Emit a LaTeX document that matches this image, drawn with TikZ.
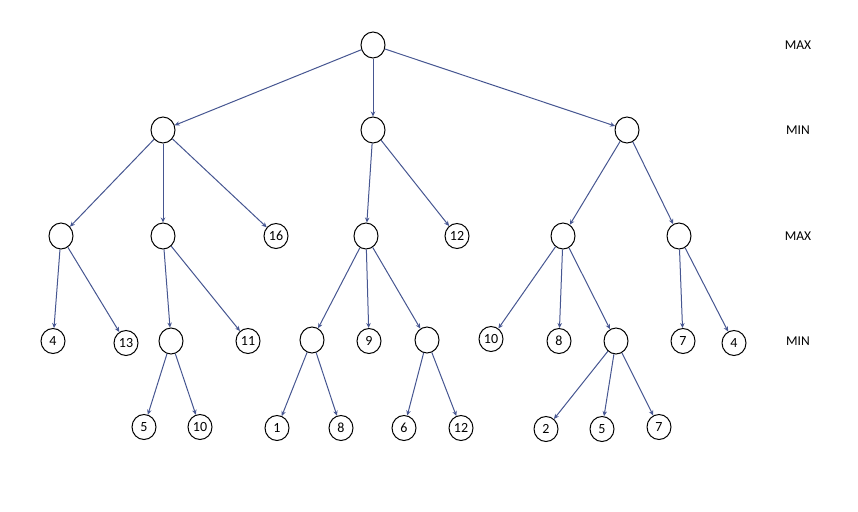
\documentclass[tikz,border=0pt]{standalone}
\usepackage{fontspec}
\setmainfont{Carlito}
\usetikzlibrary{shapes.geometric,arrows.meta}
\definecolor{edgecol}{RGB}{70,86,145}
\begin{document}
\begin{tikzpicture}[x=1pt,y=-1pt,
  nd/.style={ellipse,draw=black,line width=1pt,minimum width=24pt,minimum height=26pt,inner sep=0pt,font=\fontsize{14pt}{16pt}\selectfont},
  lf/.style={nd,minimum width=24pt,minimum height=25pt},
  edge/.style={draw=edgecol,line width=1pt,-{Stealth[length=5pt,width=4.5pt]}},
  lvl/.style={font=\fontsize{13.5pt}{16pt}\selectfont}]
\useasboundingbox (0,0) rectangle (858,511);
% root
\node[nd] (R) at (373,45) {};
% MIN level
\node[nd] (A) at (163,130) {};
\node[nd] (B) at (373,130) {};
\node[nd] (C) at (627,130) {};
% MAX level
\node[nd] (A1) at (61,236) {};
\node[nd] (A2) at (163,236) {};
\node[lf] (A3) at (276,236) {16};
\node[nd] (B1) at (366,236) {};
\node[lf] (B2) at (457,236) {12};
\node[nd] (C1) at (563,236) {};
\node[nd] (C2) at (679,236) {};
% MIN level 2
\node[lf] (A1a) at (53,341) {4};
\node[lf] (A1b) at (126,343) {13};
\node[nd] (A2a) at (171,341) {};
\node[lf] (A2b) at (248,341) {11};
\node[nd] (B1a) at (312,340) {};
\node[lf] (B1b) at (369,341) {9};
\node[nd] (B1c) at (427,340) {};
\node[lf] (C1a) at (491,339) {10};
\node[lf] (C1b) at (559,341) {8};
\node[nd] (C1c) at (616,341) {};
\node[lf] (C2a) at (683,341) {7};
\node[lf] (C2b) at (734,343) {4};
% bottom
\node[lf] (A2a1) at (144,427) {5};
\node[lf] (A2a2) at (200,427) {10};
\node[lf] (B1a1) at (277,428) {1};
\node[lf] (B1a2) at (341,428) {8};
\node[lf] (B1c1) at (404,428) {6};
\node[lf] (B1c2) at (461,428) {12};
\node[lf] (C1c1) at (546,429) {2};
\node[lf] (C1c2) at (602,429) {5};
\node[lf] (C1c3) at (659,427) {7};
% level labels
\node[lvl] (L1) at (798,45) {MAX};
\node[lvl] (L2) at (798,130) {MIN};
\node[lvl] (L3) at (798,236) {MAX};
\node[lvl] (L4) at (798,341) {MIN};
% edges
\foreach \p/\c in {R/A,R/B,R/C,A/A1,A/A2,A/A3,B/B1,B/B2,C/C1,C/C2,
  A1/A1a,A1/A1b,A2/A2a,A2/A2b,B1/B1a,B1/B1b,B1/B1c,C1/C1a,C1/C1b,C1/C1c,C2/C2a,C2/C2b,
  A2a/A2a1,A2a/A2a2,B1a/B1a1,B1a/B1a2,B1c/B1c1,B1c/B1c2,C1c/C1c1,C1c/C1c2,C1c/C1c3}
  \draw[edge] (\p) -- (\c);
\end{tikzpicture}
\end{document}
